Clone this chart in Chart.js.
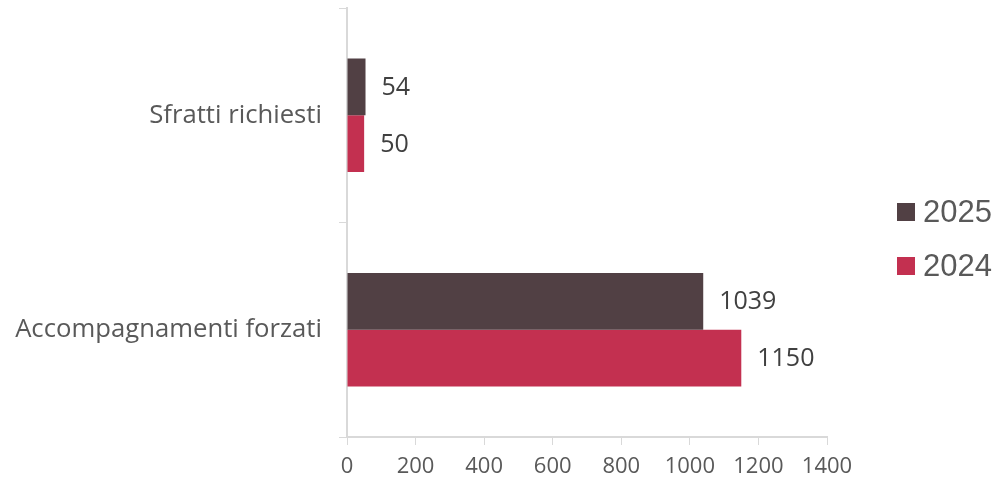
<!DOCTYPE html>
<html>
<head>
<meta charset="utf-8">
<script src="https://cdn.jsdelivr.net/npm/chart.js@4/dist/chart.umd.min.js"></script>
<style>
	html, body { margin: 0; padding: 0; background: #fff; }
	#wrap { width: 996px; height: 480px; position: relative; }
</style>
</head>
<body>
<div id="wrap"><canvas id="chart"></canvas></div>
<script>
// Sfratti / accompagnamenti — horizontal bars

const categories = ['Sfratti richiesti', 'Accompagnamenti forzati'];
const seriesNames = ['2025', '2024'];
const values2025 = [54, 1039];
const values2024 = [50, 1150];
const xTicks = [0, 200, 400, 600, 800, 1000, 1200, 1400];

const C = { dark: '#514044', red: '#c33050', axis: '#d9d9d9', text: '#595959', label: '#404040' };
const FONT = "'Open Sans', 'Noto Sans', sans-serif";

// value labels at bar ends
const barLabels = {
	id: 'barLabels',
	afterDatasetsDraw(chart) {
		const ctx = chart.ctx;
		ctx.save();
		ctx.font = '25px ' + FONT;
		ctx.fillStyle = C.label;
		ctx.textBaseline = 'middle';
		ctx.textAlign = 'left';
		chart.data.datasets.forEach((ds, di) => {
			chart.getDatasetMeta(di).data.forEach((bar, i) => {
				ctx.fillText(String(ds.data[i]), bar.x + 16, bar.y + 1);
			});
		});
		ctx.restore();
	}
};

// legend on the right
const sideLegend = {
	id: 'sideLegend',
	afterDraw(chart) {
		const ctx = chart.ctx;
		ctx.save();
		ctx.font = "31px 'Liberation Sans', Arial, sans-serif";
		ctx.textBaseline = 'middle';
		chart.data.datasets.forEach((ds, i) => {
			const y = 212 + i * 54;
			ctx.fillStyle = ds.backgroundColor;
			ctx.fillRect(897, y - 9, 18, 18);
			ctx.fillStyle = C.text;
			ctx.fillText(ds.label, 923, y + 1);
		});
		ctx.restore();
	}
};

new Chart(document.getElementById('chart'), {
	type: 'bar',
	data: {
		labels: categories,
		datasets: [
			{ label: seriesNames[0], data: values2025, backgroundColor: C.dark },
			{ label: seriesNames[1], data: values2024, backgroundColor: C.red }
		]
	},
	options: {
		indexAxis: 'y',
		responsive: true,
		maintainAspectRatio: false,
		animation: false,
		layout: { padding: { top: 8, right: 169, bottom: 0, left: 0 } },
		datasets: { bar: { categoryPercentage: 0.53, barPercentage: 1 } },
		plugins: { legend: { display: false }, tooltip: { enabled: false } },
		scales: {
			x: {
				min: xTicks[0], max: xTicks[xTicks.length - 1],
				afterBuildTicks: s => { s.ticks = xTicks.map(v => ({ value: v })); },
				afterFit: s => { s.height = 43; s.paddingLeft = 0; s.paddingRight = 0; },
				grid: { drawOnChartArea: false, drawTicks: true, tickLength: 8, color: C.axis },
				border: { color: C.axis, width: 2 },
				ticks: { color: C.text, font: { family: FONT, size: 22 }, padding: 9, maxRotation: 0, callback: v => String(v) }
			},
			y: {
				afterFit: s => { s.width = 347; s.paddingTop = 0; s.paddingBottom = 0; },
				grid: { drawOnChartArea: false, drawTicks: true, tickLength: 8, color: C.axis, offset: true },
				border: { color: C.axis, width: 2 },
				ticks: { color: C.text, font: { family: FONT, size: 25.7 }, padding: 17 }
			}
		}
	},
	plugins: [barLabels, sideLegend]
});
</script>
</body>
</html>
